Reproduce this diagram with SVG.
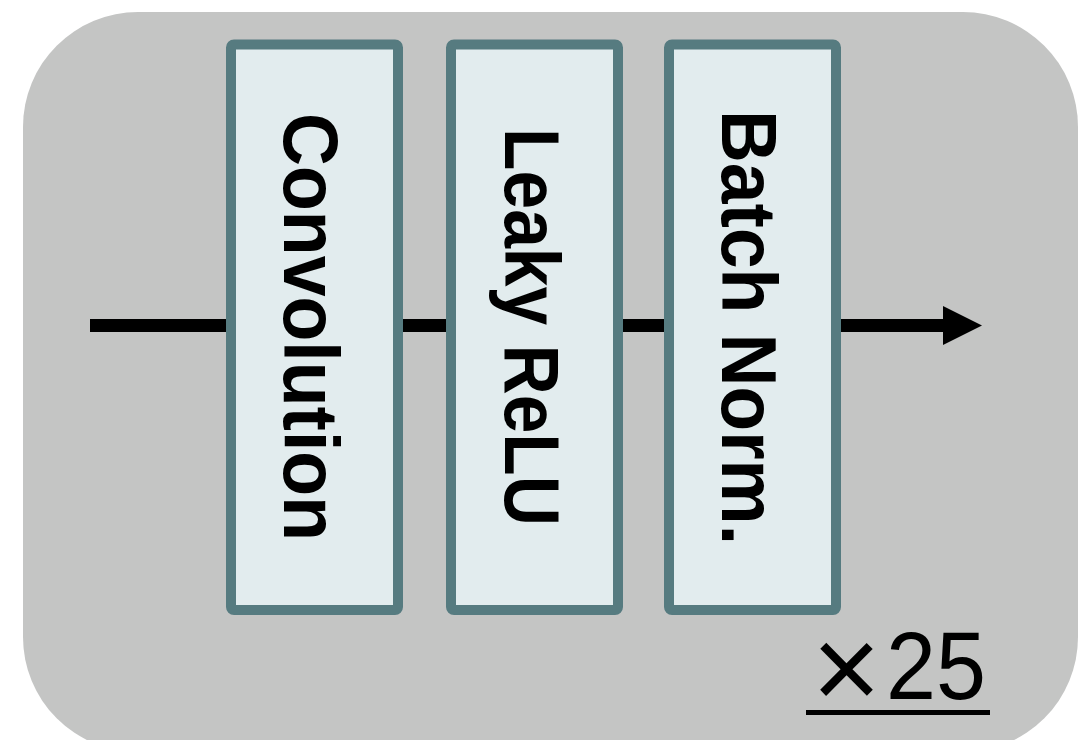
<svg xmlns="http://www.w3.org/2000/svg" width="1088" height="740" viewBox="0 0 1088 740">
  <style>
    .blk { fill: #e2ecee; stroke: #567b80; stroke-width: 10; }
    .lbl { font-family: "Liberation Sans", Arial, sans-serif; font-weight: bold; font-size: 77px; fill: #000; text-anchor: middle; }
    .cnt { font-family: "Liberation Sans", Arial, sans-serif; font-size: 96px; fill: #000; }
    .wire { stroke: #000; stroke-width: 13; fill: none; }
  </style>
  <rect id="container" x="23" y="12" width="1055" height="740" rx="115" ry="115" fill="#c4c5c4"/>
  <g id="connectors">
    <line class="wire" x1="90" y1="325.5" x2="945" y2="325.5"/>
    <polygon points="943,306 982,325.5 943,345" fill="#000"/>
  </g>
  <g id="convolution">
    <rect class="blk" x="231" y="44.5" width="167" height="565.5" rx="3"/>
    <text class="lbl" transform="translate(284,327) rotate(90)" textLength="428" lengthAdjust="spacingAndGlyphs">Convolution</text>
  </g>
  <g id="leaky-relu">
    <rect class="blk" x="451" y="44.5" width="167" height="565.5" rx="3"/>
    <text class="lbl" transform="translate(505,327) rotate(90)" textLength="398" lengthAdjust="spacingAndGlyphs">Leaky ReLU</text>
  </g>
  <g id="batch-norm">
    <rect class="blk" x="669" y="44.5" width="167" height="565.5" rx="3"/>
    <text class="lbl" transform="translate(722,327.5) rotate(90)" textLength="435" lengthAdjust="spacingAndGlyphs">Batch Norm.</text>
  </g>
  <g id="repeat-count">
    <text class="cnt" x="812" y="699"><tspan font-size="118" dy="10">×</tspan><tspan x="886" dy="-10" textLength="100" lengthAdjust="spacingAndGlyphs">25</tspan></text>
    <rect x="806" y="710" width="184" height="5" fill="#000"/>
  </g>
</svg>
